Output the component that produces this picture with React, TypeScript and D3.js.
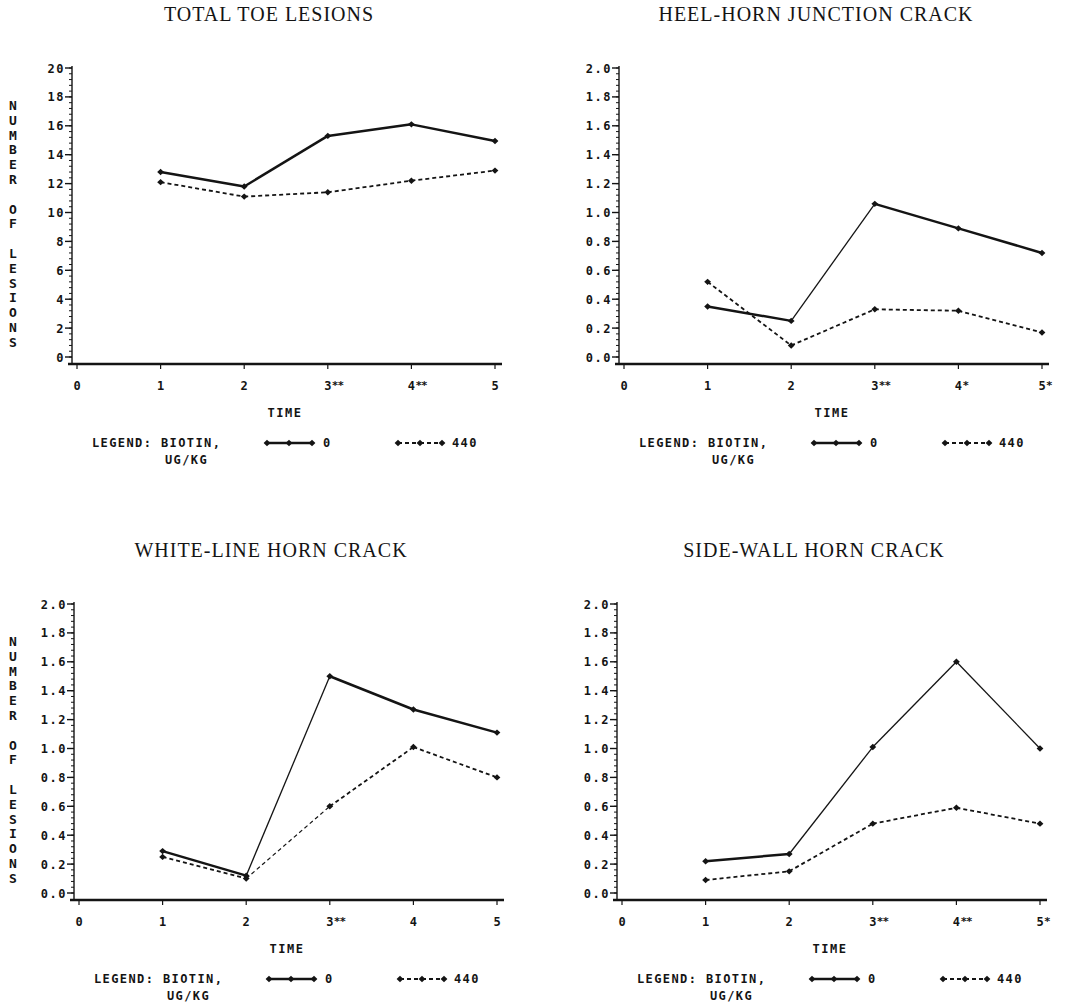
import React from "react";
import * as d3 from "d3";

// values (time points 1..5)
const times = [1, 2, 3, 4, 5];
const xTicks = [0, 1, 2, 3, 4, 5];

const toe0 = [12.8, 11.8, 15.3, 16.1, 14.95];
const toe440 = [12.1, 11.1, 11.4, 12.2, 12.9];
const heel0 = [0.35, 0.25, 1.06, 0.89, 0.72];
const heel440 = [0.52, 0.08, 0.33, 0.32, 0.17];
const white0 = [0.29, 0.12, 1.5, 1.27, 1.11];
const white440 = [0.25, 0.1, 0.6, 1.01, 0.8];
const side0 = [0.22, 0.27, 1.01, 1.6, 1.0];
const side440 = [0.09, 0.15, 0.48, 0.59, 0.48];

// significance marks after the x tick labels (index = tick value)
const toeStars = ["", "", "", "**", "**", ""];
const heelStars = ["", "", "", "**", "*", "*"];
const whiteStars = ["", "", "", "**", "", ""];
const sideStars = ["", "", "", "**", "**", "*"];

const legendLabels = ["0", "440"];
const yLabel = "NUMBER OF LESIONS";

const MONO = "'DejaVu Sans Mono', 'Liberation Mono', monospace";
const SERIF = "'Liberation Serif', 'DejaVu Serif', serif";
const INK = "#141414";

type PanelProps = {
  title: string;
  ox: number;
  oy: number;
  yMax: number;
  yStep: number;
  fmt: (v: number) => string;
  s0: number[];
  s440: number[];
  stars: string[];
  showYLabel: boolean;
};

function Segments({ pts, dashed }: { pts: [number, number][]; dashed: boolean }) {
  // plotter pens drew shallow strokes heavier than steep ones
  return (
    <g>
      {d3.pairs(pts).map(([a, b], i) => {
        const steep = Math.abs(b[1] - a[1]) > Math.abs(b[0] - a[0]) * 0.8;
        const w = dashed ? (steep ? 1.2 : 1.8) : steep ? 1.3 : 2.5;
        return (
          <line
            key={i}
            x1={a[0]}
            y1={a[1]}
            x2={b[0]}
            y2={b[1]}
            stroke={INK}
            strokeWidth={w}
            strokeDasharray={dashed ? "4 3" : undefined}
          />
        );
      })}
      {pts.map((p, i) => (
        <path
          key={"m" + i}
          d={`M${p[0] - 3.4},${p[1]}L${p[0]},${p[1] - 3.2}L${p[0] + 3.4},${p[1]}L${p[0]},${p[1] + 3.2}Z`}
          fill={INK}
        />
      ))}
    </g>
  );
}

function Panel(p: PanelProps) {
  const { ox, oy } = p;
  const x = d3.scaleLinear().domain([0, 5]).range([ox + 5, ox + 423]);
  const y = d3.scaleLinear().domain([0, p.yMax]).range([oy, oy - 289]);
  const majors = d3.range(0, p.yMax + p.yStep / 2, p.yStep);
  const minors = d3.range(0, p.yMax + 1e-9, p.yStep / 5);
  const pts0 = times.map((t, i) => [x(t), y(p.s0[i])] as [number, number]);
  const pts440 = times.map((t, i) => [x(t), y(p.s440[i])] as [number, number]);
  const axisY = oy + 7;
  const lg = ox + 195;
  const lgY = oy + 90;

  return (
    <g>
      <text
        x={ox + 197}
        y={oy - 336}
        textAnchor="middle"
        fontFamily={SERIF}
        fontSize={20}
        letterSpacing={1}
        fill={INK}
      >
        {p.title}
      </text>

      {p.showYLabel &&
        yLabel.split("").map((c, i) => (
          <text
            key={"yl" + i}
            x={13}
            y={oy - 252 + i * 14.8 + 5}
            textAnchor="middle"
            fontFamily={MONO}
            fontWeight="bold"
            fontSize={13}
            fill={INK}
          >
            {c}
          </text>
        ))}

      {/* y axis */}
      <line x1={ox} y1={y(p.yMax) - 2} x2={ox} y2={axisY} stroke={INK} strokeWidth={1.4} />
      {minors.map((v, i) => (
        <line key={"mn" + i} x1={ox - 3} y1={y(v)} x2={ox} y2={y(v)} stroke={INK} strokeWidth={1} />
      ))}
      {majors.map((v, i) => (
        <g key={"mj" + i}>
          <line x1={ox - 7} y1={y(v)} x2={ox} y2={y(v)} stroke={INK} strokeWidth={1.4} />
          <text
            x={ox - 7}
            y={y(v) + 4.5}
            textAnchor="end"
            fontFamily={MONO}
            fontWeight="bold"
            fontSize={12}
            letterSpacing={1.5}
            fill={INK}
          >
            {p.fmt(v)}
          </text>
        </g>
      ))}

      {/* x axis */}
      <line x1={ox - 4} y1={axisY} x2={ox + 430} y2={axisY} stroke={INK} strokeWidth={2.4} />
      {xTicks.map((t) => (
        <g key={"xt" + t}>
          <line x1={x(t)} y1={axisY} x2={x(t)} y2={axisY + 5} stroke={INK} strokeWidth={1.2} />
          <text
            x={x(t)}
            y={oy + 33}
            textAnchor="middle"
            fontFamily={MONO}
            fontWeight="bold"
            fontSize={12}
            fill={INK}
          >
            {t}
          </text>
          {p.stars[t] && (
            <text x={x(t) + 4} y={oy + 32} fontFamily={MONO} fontWeight="bold" fontSize={11} letterSpacing={-1} fill={INK}>
              {p.stars[t]}
            </text>
          )}
        </g>
      ))}
      <text
        x={ox + 213}
        y={oy + 60}
        textAnchor="middle"
        fontFamily={MONO}
        fontWeight="bold"
        fontSize={12}
        letterSpacing={1.5}
        fill={INK}
      >
        TIME
      </text>

      {/* data */}
      <Segments pts={pts0} dashed={false} />
      <Segments pts={pts440} dashed={true} />

      {/* legend */}
      <g fontFamily={MONO} fontWeight="bold" fontSize={12} fill={INK} letterSpacing={1.4}>
        <text x={ox + 20} y={lgY}>
          LEGEND: BIOTIN,
        </text>
        <text x={ox + 93} y={lgY + 17}>
          UG/KG
        </text>
        <text x={lg + 56} y={lgY}>
          {legendLabels[0]}
        </text>
        <text x={lg + 185} y={lgY}>
          {legendLabels[1]}
        </text>
      </g>
      <Segments
        pts={[
          [lg, lgY - 4],
          [lg + 22, lgY - 4],
          [lg + 45, lgY - 4],
        ]}
        dashed={false}
      />
      <Segments
        pts={[
          [lg + 131, lgY - 4],
          [lg + 153, lgY - 4],
          [lg + 175, lgY - 4],
        ]}
        dashed={true}
      />
    </g>
  );
}

const f0 = d3.format("d");
const f1 = d3.format(".1f");

export default function App() {
  return (
    <svg
      width={1081}
      height={1002}
      style={{ position: "absolute", left: 0, top: 0, background: "#fff" }}
    >
      <rect width={1081} height={1002} fill="#fff" />
      <Panel title="TOTAL TOE LESIONS" ox={72} oy={357} yMax={20} yStep={2} fmt={f0} s0={toe0} s440={toe440} stars={toeStars} showYLabel={true} />
      <Panel title="HEEL-HORN JUNCTION CRACK" ox={619} oy={357} yMax={2} yStep={0.2} fmt={f1} s0={heel0} s440={heel440} stars={heelStars} showYLabel={false} />
      <Panel title="WHITE-LINE HORN CRACK" ox={74} oy={893} yMax={2} yStep={0.2} fmt={f1} s0={white0} s440={white440} stars={whiteStars} showYLabel={true} />
      <Panel title="SIDE-WALL HORN CRACK" ox={617} oy={893} yMax={2} yStep={0.2} fmt={f1} s0={side0} s440={side440} stars={sideStars} showYLabel={false} />
    </svg>
  );
}
